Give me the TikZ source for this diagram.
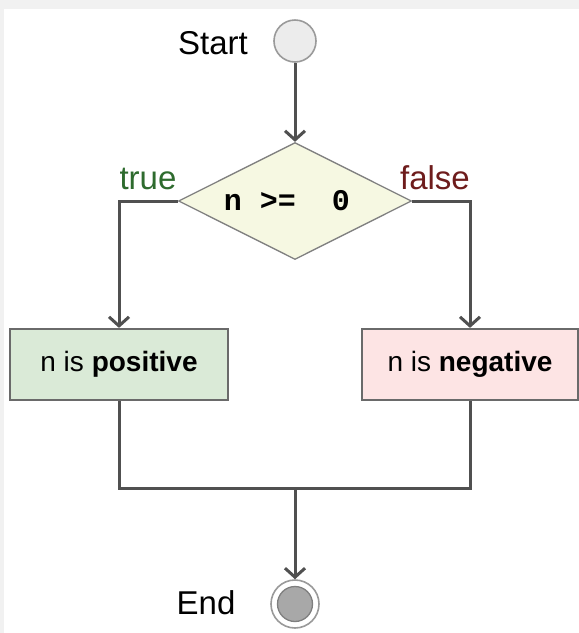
\documentclass[tikz,border=0pt]{standalone}
\usepackage{fontspec}
\setmainfont{Liberation Sans}
\newfontfamily\monob{Liberation Mono}
\usetikzlibrary{arrows.meta,shapes.geometric}
\definecolor{bggray}{HTML}{F1F1F1}
\definecolor{conncol}{HTML}{505050}
\definecolor{boxline}{HTML}{6A6A6A}
\definecolor{diaLine}{HTML}{7F7F7F}
\definecolor{diaFill}{HTML}{F6F8E2}
\definecolor{posFill}{HTML}{DAEAD7}
\definecolor{negFill}{HTML}{FDE4E4}
\definecolor{trueCol}{HTML}{2E6B2E}
\definecolor{falseCol}{HTML}{6E1C1C}
\definecolor{startFill}{HTML}{ECECEC}
\definecolor{startLine}{HTML}{9A9A9A}
\definecolor{endInner}{HTML}{A8A8A8}
\begin{document}
\begin{tikzpicture}[x=1pt,y=-1pt,
  lbl/.style={font=\fontsize{33}{40}\selectfont, text=black, inner sep=0pt},
  actbox/.style={draw=boxline, line width=2.2pt, minimum height=71pt, inner sep=0pt},
  conn/.style={draw=conncol, line width=3pt},
  arr/.style={conn, -{Straight Barb[length=9pt,width=20pt]}}
]
\fill[bggray] (0,0) rectangle (579,633);
\fill[white] (4,9) rectangle (579,633);
\useasboundingbox (0,0) rectangle (579,633);

\node[circle, draw=startLine, fill=startFill, line width=1.6pt, minimum size=42pt, inner sep=0pt] (start) at (295,41) {};
\node[lbl, anchor=base] (startlbl) at (213,54) {Start};

\node[diamond, draw=diaLine, fill=diaFill, line width=1.3pt, minimum width=233pt, minimum height=117pt, inner sep=0pt, aspect=2] (dec) at (295,201) {};
\node[inner sep=0pt, font=\monob\bfseries\fontsize{30}{34}\selectfont] (dectxt) at (287,201) {n~>=~~0};

\node[lbl, anchor=base, text=trueCol] (truelbl) at (148,189) {true};
\node[lbl, anchor=base, text=falseCol] (falselbl) at (435,189) {false};

\node[actbox, fill=posFill, minimum width=218pt] (pos) at (119,364.5) {\fontsize{28}{34}\selectfont n is \textbf{positive}};
\node[actbox, fill=negFill, minimum width=216pt] (neg) at (470,364.5) {\fontsize{28}{34}\selectfont n is \textbf{negative}};

\coordinate (join) at (295,488);

\node[circle, draw=startLine, fill=white, line width=1.6pt, minimum size=48pt, inner sep=0pt] (end) at (295,604) {};
\node[circle, draw=diaLine, fill=endInner, line width=1.3pt, minimum size=35pt, inner sep=0pt] (endin) at (end.center) {};
\node[lbl, anchor=base] (endlbl) at (206,614) {End};

\draw[arr] (start.south) -- (dec.north);
\draw[arr] (dec.west) -| (pos.north);
\draw[arr] (dec.east) -| (neg.north);
\draw[conn] (pos.south) |- (join) -| (neg.south);
\draw[arr] (join) -- (end.north);
\end{tikzpicture}
\end{document}
